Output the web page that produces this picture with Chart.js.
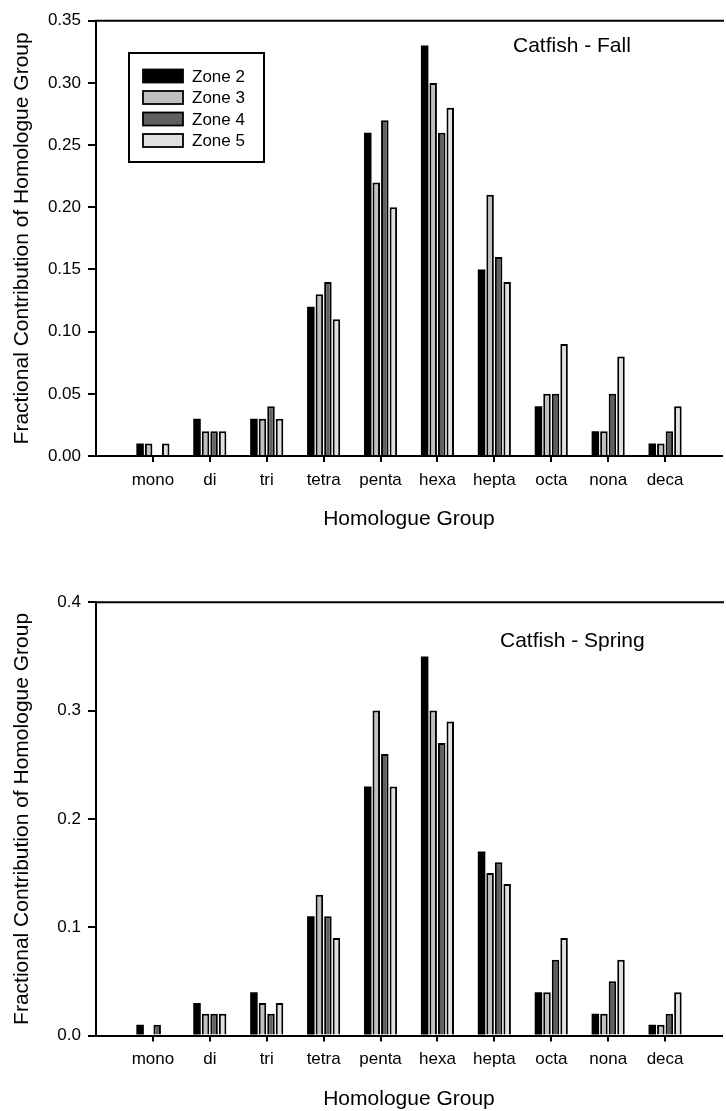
<!DOCTYPE html>
<html><head><meta charset="utf-8">
<script src="https://cdn.jsdelivr.net/npm/chart.js@4.4.1/dist/chart.umd.min.js"></script>
<style>
html,body{margin:0;padding:0;background:#fff;overflow:hidden;width:726px;height:1111px;}
#wrap{position:relative;width:726px;height:1111px;overflow:hidden;background:#fff;}
canvas{position:absolute;left:0;}
#c1{top:0px;}
#c2{top:560px;}
</style></head><body>
<div id="wrap"><canvas id="c1" width="730" height="560"></canvas><canvas id="c2" width="730" height="551"></canvas></div>
<script>
// ---- data ----
const categories = ['mono','di','tri','tetra','penta','hexa','hepta','octa','nona','deca'];
const zoneNames = ['Zone 2','Zone 3','Zone 4','Zone 5'];

const fallZone2 = [0.01,0.03,0.03,0.12,0.26,0.33,0.15,0.04,0.02,0.01];
const fallZone3 = [0.01,0.02,0.03,0.13,0.22,0.30,0.21,0.05,0.02,0.01];
const fallZone4 = [0.00,0.02,0.04,0.14,0.27,0.26,0.16,0.05,0.05,0.02];
const fallZone5 = [0.01,0.02,0.03,0.11,0.20,0.28,0.14,0.09,0.08,0.04];

const springZone2 = [0.01,0.03,0.04,0.11,0.23,0.35,0.17,0.04,0.02,0.01];
const springZone3 = [0.00,0.02,0.03,0.13,0.30,0.30,0.15,0.04,0.02,0.01];
const springZone4 = [0.01,0.02,0.02,0.11,0.26,0.27,0.16,0.07,0.05,0.02];
const springZone5 = [0.00,0.02,0.03,0.09,0.23,0.29,0.14,0.09,0.07,0.04];

const fallTicks = ['0.00','0.05','0.10','0.15','0.20','0.25','0.30','0.35'];
const springTicks = ['0.0','0.1','0.2','0.3','0.4'];

const fallTitle = 'Catfish - Fall';
const springTitle = 'Catfish - Spring';
const xTitle = 'Homologue Group';
const yTitle = 'Fractional Contribution of Homologue Group';

// ---- styles ----
const zoneColors = ['#000000','#c0c0c0','#606060','#e0e0e0'];
const zoneBorders = [0, 2, 2, 2];
const FONT = '"Liberation Sans", Arial, Helvetica, sans-serif';

function makeChart(id, series, ticks, cfg) {
  const labels = [''].concat(categories, ['']);
  const datasets = series.map((s, i) => ({
    label: zoneNames[i],
    data: [null].concat(s, [null]),
    backgroundColor: zoneColors[i],
    borderColor: '#000',
    borderWidth: zoneBorders[i],
    categoryPercentage: 0.6,
    barPercentage: 0.88
  }));
  const n = labels.length;
  const plugins = [{
    id: 'decor',
    afterDraw(chart) {
      const ctx = chart.ctx, a = chart.chartArea;
      ctx.save();
      ctx.strokeStyle = '#000'; ctx.lineWidth = 2;
      ctx.beginPath(); ctx.moveTo(a.left - 1, a.top); ctx.lineTo(a.right + 2, a.top); ctx.stroke();
      ctx.fillStyle = '#000';
      ctx.font = '21px ' + FONT;
      ctx.textAlign = 'left'; ctx.textBaseline = 'alphabetic';
      ctx.fillText(cfg.title, cfg.titleX, cfg.titleY);
      ctx.textAlign = 'center';
      ctx.fillText(xTitle, (a.left + a.right) / 2, a.bottom + 69);
      if (cfg.legend) {
        const L = cfg.legend;
        ctx.lineWidth = 2; ctx.strokeStyle = '#000';
        ctx.strokeRect(L.x, L.y, L.w, L.h);
        ctx.font = '17px ' + FONT; ctx.textAlign = 'left'; ctx.textBaseline = 'middle';
        chart.data.datasets.forEach((d, i) => {
          const cy = L.row0 + i * L.rowGap;
          ctx.fillStyle = d.backgroundColor;
          ctx.fillRect(L.sx, cy - 6.5, 40, 13);
          ctx.lineWidth = 1.8; ctx.strokeRect(L.sx, cy - 6.5, 40, 13);
          ctx.fillStyle = '#000';
          ctx.fillText(d.label, L.tx, cy + 1);
        });
      }
      ctx.restore();
    }
  }];
  return new Chart(document.getElementById(id), {
    type: 'bar',
    data: { labels, datasets },
    plugins,
    options: {
      responsive: false,
      animation: false,
      devicePixelRatio: 1,
      layout: { padding: { top: cfg.top, left: 0, right: 0, bottom: 0 } },
      plugins: { legend: { display: false }, tooltip: { enabled: false }, title: { display: false } },
      scales: {
        x: {
          type: 'category',
          offset: false,
          grid: {
            display: true, drawOnChartArea: false, drawTicks: true, offset: false,
            tickLength: 6, tickWidth: 2, lineWidth: 2,
            tickColor: (c) => (c.index === 0 || c.index === n - 1) ? 'rgba(0,0,0,0)' : '#000',
            color: '#000'
          },
          border: { display: true, color: '#000', width: 2 },
          ticks: { autoSkip: false, maxRotation: 0, minRotation: 0, padding: 8, color: '#000',
                   font: { family: FONT, size: 17 } },
          afterFit(scale) { scale.height = cfg.xh; }
        },
        y: {
          min: 0, max: cfg.max,
          ticks: { stepSize: cfg.step, padding: 7, color: '#000', font: { family: FONT, size: 17 },
                   callback: (v, i) => ticks[i] },
          grid: { display: true, drawOnChartArea: false, drawTicks: true, tickLength: 8, tickWidth: 2,
                  lineWidth: 2, color: '#000', tickColor: '#000' },
          border: { display: true, color: '#000', width: 2 },
          title: { display: true, text: yTitle, color: '#000', font: { family: FONT, size: 21 },
                   padding: { top: 10, bottom: 0 } },
          afterFit(scale) { scale.width = 96; }
        }
      }
    }
  });
}

makeChart('c1', [fallZone2, fallZone3, fallZone4, fallZone5], fallTicks, {
  max: 0.35, step: 0.05, top: 20.7, xh: 104, title: fallTitle, titleX: 513, titleY: 52,
  legend: { x: 129, y: 53, w: 135, h: 109, sx: 143, tx: 192, row0: 76, rowGap: 21.5 }
});
makeChart('c2', [springZone2, springZone3, springZone4, springZone5], springTicks, {
  max: 0.4, step: 0.1, top: 42.3, xh: 75.5, title: springTitle, titleX: 500, titleY: 87.3
});
</script>
</body></html>
